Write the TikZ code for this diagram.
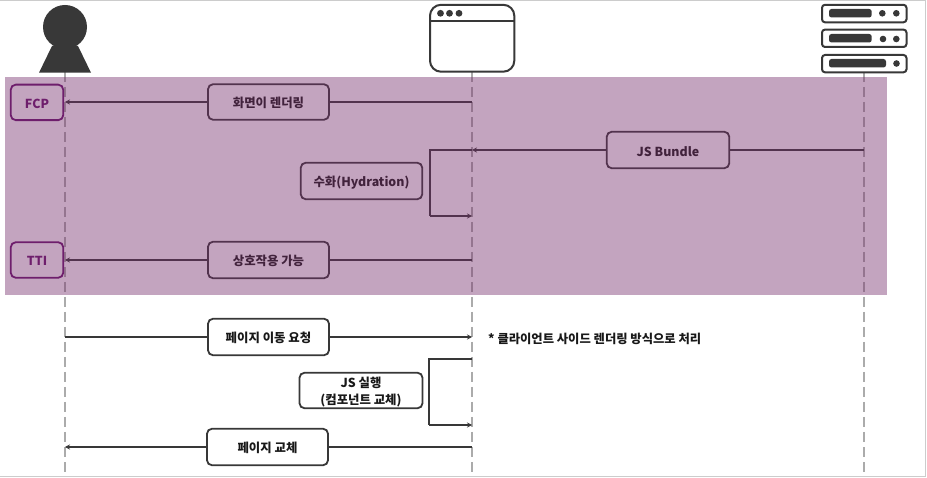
\documentclass[tikz,border=0pt]{standalone}
\usepackage{fontspec}
\setmainfont{Noto Sans CJK KR}
\usetikzlibrary{arrows.meta}
\definecolor{ink}{HTML}{383838}
\definecolor{lifegray}{HTML}{ABABAB}
\definecolor{bandpurple}{HTML}{762E6B}
\definecolor{markpurple}{HTML}{6E1E6C}
\newcommand{\lowtext}[1]{\raisebox{-1.2pt}[\height][\depth]{#1}}
\tikzset{
  lifeline/.style={draw=lifegray,line width=1.5pt,dash pattern=on 10pt off 5pt},
  msg/.style={draw=ink,line width=1.8pt},
  msgarrow/.style={msg,-{Stealth[length=5pt,width=5pt]}},
  msgbox/.style={draw=ink,fill=white,line width=1.8pt,rounded corners=5pt,align=center,
    text=black!90,font=\fontsize{12.4}{17}\selectfont\bfseries,inner sep=0pt},
  markbox/.style={draw=markpurple,line width=1.8pt,rounded corners=5pt,text=markpurple,
    font=\fontsize{12.4}{15}\selectfont\bfseries,inner sep=0pt,minimum width=52.5pt,minimum height=35.5pt},
  iconline/.style={draw=ink,line width=2pt},
  iconfill/.style={fill=ink,draw=none}
}
\begin{document}
\begin{tikzpicture}[x=1pt,y=-1pt]
\useasboundingbox (0,0) rectangle (927,478);
\fill[white] (0,0) rectangle (927,478);
\draw[draw=black!20,line width=1pt] (-1,0.3) -- (925.5,0.3) -- (925.5,476.5) -- (-1,476.5);

% lifeline anchors
\coordinate (userT) at (65,72);
\coordinate (userB) at (65,476);
\coordinate (browT) at (472,72);
\coordinate (browB) at (472,476);
\coordinate (servT) at (864,72);
\coordinate (servB) at (864,476);
\draw[lifeline] (userT) -- (userB);
\draw[lifeline] (browT) -- (browB);
\draw[lifeline] (servT) -- (servB);

% actor
\fill[iconfill] (65,27) circle (22);
\fill[iconfill] (39,72.7) -- (52,46) -- (78,46) -- (91,72.7) -- cycle;

% browser
\draw[iconline,rounded corners=11pt] (430,4.8) rectangle (514.3,71.7);
\draw[iconline] (430,21.5) -- (514.3,21.5);
\foreach \dx in {440.5,449.5,459}{\fill[iconfill] (\dx,13.3) circle (3.4);}

% server
\foreach \ya/\yb in {4.8/22.3,29.6/47,55/72.3}{
  \draw[iconline,rounded corners=3pt] (822,\ya) rectangle (906.5,\yb);
}
\fill[iconfill,rounded corners=2.5pt] (829,9) rectangle (871.7,17.5);
\fill[iconfill,rounded corners=2.5pt] (829,34) rectangle (871.7,42.5);
\fill[iconfill,rounded corners=2.5pt] (829,59) rectangle (886,67.5);
\foreach \dx/\dy in {882.3/13.3,896.3/13.3,883/39,896.3/39,896.5/63.5}{\fill[iconfill] (\dx,\dy) circle (3.3);}

% message boxes
\node[msgbox,minimum width=121pt,minimum height=35.5pt] (render) at (268.5,102) {\lowtext{화면이 렌더링}};
\node[msgbox,minimum width=122.5pt,minimum height=36.5pt] (bundle) at (668,150) {\lowtext{JS Bundle}};
\node[msgbox,minimum width=121.5pt,minimum height=36.5pt] (hydr) at (361.5,181) {\lowtext{수화(Hydration)}};
\node[msgbox,minimum width=121pt,minimum height=36.5pt] (inter) at (268.5,260) {\lowtext{상호작용 가능}};
\node[msgbox,minimum width=121pt,minimum height=36.5pt] (navreq) at (268.5,337) {\lowtext{페이지 이동 요청}};
\node[msgbox,minimum width=123pt,minimum height=35.5pt] (jsrun) at (361,390.5) {\lowtext{JS 실행}\\\lowtext{(컴포넌트 교체)}};
\node[msgbox,minimum width=121pt,minimum height=36.5pt] (swap) at (267.5,447) {\lowtext{페이지 교체}};
\node[anchor=west,inner sep=0pt,text=black!90,font=\fontsize{12.3}{15}\selectfont\bfseries] (note) at (488,338.5) {* 클라이언트 사이드 렌더링 방식으로 처리};

% connectors
\coordinate (hyA) at (430,150);
\coordinate (hyB) at (430,216);
\coordinate (jsA) at (429,359);
\coordinate (jsB) at (429,425);
\draw[msg] (render.east) -- (render.east -| browT);
\draw[msgarrow] (render.west) -- (render.west -| userT);
\draw[msg] (bundle.east) -- (bundle.east -| servT);
\draw[msgarrow] (bundle.west) -- (bundle.west -| browT);
\draw[msg,line join=miter] (hyA -| browT) -- (hyA) -- (hyB);
\draw[msgarrow] (hyB) -- (hyB -| browT);
\draw[msg] (inter.east) -- (inter.east -| browT);
\draw[msgarrow] (inter.west) -- (inter.west -| userT);
\draw[msg] (navreq.west) -- (navreq.west -| userT);
\draw[msgarrow] (navreq.east) -- (navreq.east -| browT);
\draw[msg,line join=miter] (jsA -| browT) -- (jsA) -- (jsB);
\draw[msgarrow] (jsB) -- (jsB -| browT);
\draw[msg] (swap.east) -- (swap.east -| browT);
\draw[msgarrow] (swap.west) -- (swap.west -| userT);

% translucent band
\fill[bandpurple,fill opacity=0.43] (5,77) rectangle (887,295);

% purple marks on top of the band
\node[markbox] (fcp) at (37,102.4) {\lowtext{FCP}};
\node[markbox] (tti) at (37,260) {\lowtext{TTI}};
\end{tikzpicture}
\end{document}
